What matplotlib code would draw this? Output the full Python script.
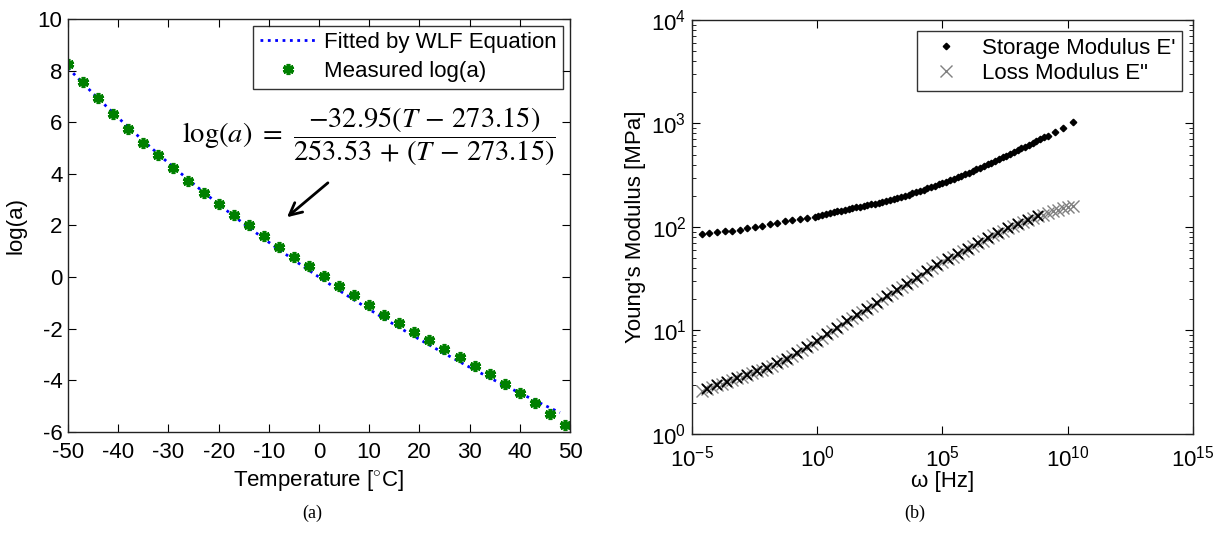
import matplotlib
matplotlib.use("Agg")
import matplotlib.pyplot as plt
import numpy as np
from matplotlib.ticker import LogLocator, NullLocator, FixedLocator

plt.rcParams['font.family'] = ['Liberation Sans', 'DejaVu Sans']
plt.rcParams['mathtext.fontset'] = 'custom'
plt.rcParams['mathtext.rm'] = 'Liberation Sans'
plt.rcParams['mathtext.it'] = 'Liberation Sans:italic'
plt.rcParams['axes.unicode_minus'] = False

# (a) shift factor data
temp_meas = [-50, -47, -44, -41, -38, -35, -32, -29, -26, -23, -20, -17,
             -14, -11, -8, -5, -2, 1, 4, 7, 10, 13, 16, 19, 22, 25, 28, 31,
             34, 37, 40, 43, 46, 49]
loga_meas = [8.27, 7.55, 6.92, 6.30, 5.74, 5.20, 4.71, 4.23, 3.74, 3.27, 2.83, 2.42,
             2.03, 1.59, 1.18, 0.79, 0.42, 0.03, -0.33, -0.69, -1.07, -1.45, -1.76, -2.12,
             -2.45, -2.78, -3.10, -3.44, -3.77, -4.15, -4.50, -4.89, -5.30, -5.73]
temp_fit = [-50, -45, -40, -35, -30, -25, -20, -15, -10, -5, 0, 5, 10, 15, 20,
            25, 30, 35, 40, 45, 48]
loga_fit = [8.10, 7.11, 6.17, 5.28, 4.42, 3.61, 2.82, 2.07, 1.35, 0.66, 0.0, -0.64,
            -1.25, -1.84, -2.41, -2.96, -3.49, -4.00, -4.49, -4.97, -5.25]

# (b) master curves, log10 values
logw_storage = [-4.6, -4.3, -4.0, -3.7, -3.4, -3.1, -2.8, -2.5, -2.2, -1.9, -1.6, -1.3,
                -1.0, -0.7, -0.4, -0.1,
                0.05, 0.2, 0.35, 0.5, 0.65, 0.8, 0.95, 1.1, 1.25, 1.4, 1.55, 1.7, 1.85,
                2.0, 2.15, 2.3, 2.45, 2.6, 2.75, 2.9, 3.05, 3.2, 3.35, 3.5, 3.65, 3.8,
                3.95, 4.1, 4.25, 4.4, 4.55, 4.7, 4.85, 5.0, 5.15, 5.3, 5.45, 5.6, 5.75,
                5.9, 6.05, 6.2, 6.35, 6.5, 6.65, 6.8, 6.95, 7.1, 7.25, 7.4, 7.55, 7.7,
                7.85, 8.0, 8.15, 8.3, 8.45, 8.6, 8.75, 8.9, 9.05, 9.2, 9.5, 9.8, 10.2]
logE_storage = [1.930, 1.945, 1.950, 1.957, 1.963, 1.975, 1.990, 2.000, 2.013, 2.025,
                2.040, 2.055, 2.068, 2.080, 2.090, 2.100,
                2.110, 2.118, 2.126, 2.134, 2.142, 2.150, 2.158, 2.166, 2.174, 2.182,
                2.190, 2.197, 2.204, 2.211, 2.218, 2.226, 2.234, 2.242, 2.250, 2.258,
                2.268, 2.278, 2.290, 2.302, 2.313, 2.325, 2.337, 2.349, 2.361, 2.373,
                2.386, 2.399, 2.412, 2.425, 2.438, 2.451, 2.465, 2.479, 2.494, 2.509,
                2.524, 2.540, 2.556, 2.572, 2.588, 2.605, 2.622, 2.639, 2.656, 2.673,
                2.690, 2.707, 2.724, 2.741, 2.758, 2.775, 2.792, 2.810, 2.828, 2.846,
                2.864, 2.882, 2.920, 2.960, 3.010]
logw_loss = [-4.6, -4.4, -4.2, -4.0, -3.8, -3.6, -3.4, -3.2, -3.0, -2.8, -2.6, -2.4,
             -2.2, -2.0, -1.8, -1.6, -1.4, -1.2, -1.0, -0.8, -0.6, -0.4, -0.2, 0.0,
             0.2, 0.4, 0.6, 0.8, 1.0, 1.2, 1.4, 1.6, 1.8, 2.0, 2.2, 2.4, 2.6, 2.8,
             3.0, 3.2, 3.4, 3.6, 3.8, 4.0, 4.2, 4.4, 4.6, 4.8, 5.0, 5.2, 5.4, 5.6,
             5.8, 6.0, 6.2, 6.4, 6.6, 6.8, 7.0, 7.2, 7.4, 7.6, 7.8, 8.0, 8.2, 8.4,
             8.6, 8.8, 9.0, 9.2, 9.4, 9.6, 9.8, 10.0, 10.2]
logE_loss = [0.420, 0.437, 0.453, 0.470, 0.487, 0.504, 0.521, 0.538, 0.555, 0.572,
             0.589, 0.606, 0.623, 0.640, 0.661, 0.683, 0.705, 0.727, 0.750, 0.778,
             0.808, 0.838, 0.869, 0.900, 0.932, 0.964, 0.996, 1.028, 1.060, 1.090,
             1.120, 1.150, 1.180, 1.210, 1.240, 1.270, 1.300, 1.330, 1.360, 1.390,
             1.420, 1.450, 1.480, 1.510, 1.540, 1.570, 1.600, 1.630, 1.660, 1.686,
             1.712, 1.738, 1.764, 1.790, 1.816, 1.842, 1.868, 1.894, 1.920, 1.942,
             1.964, 1.986, 2.008, 2.030, 2.048, 2.066, 2.084, 2.102, 2.120, 2.135,
             2.150, 2.165, 2.180, 2.190, 2.200]

fig = plt.figure(figsize=(12.21, 5.33), dpi=100)
FS = 16

# ---- (a) ----
ax1 = fig.add_axes([0.0557, 0.1895, 0.4111, 0.775])
ax1.plot(temp_fit, loga_fit, ':', color='blue', lw=2, label='Fitted by WLF Equation')
ax1.plot(temp_meas, loga_meas, linestyle='none', marker=(6, 2, 0), ms=8, mew=2.6,
         color='green', label='Measured log(a)')
ax1.set_xlim(-50, 50)
ax1.set_ylim(-6, 10)
ax1.set_xticks(np.arange(-50, 51, 10))
ax1.set_yticks(np.arange(-6, 11, 2))
ax1.tick_params(direction='in', top=True, right=True, labelsize=FS, length=6, pad=4)
ax1.tick_params(axis='x', pad=7)
ax1.set_xlabel('Temperature [$^{\\circ}$C]', fontsize=FS, labelpad=4)
ax1.set_ylabel('log(a)', fontsize=FS, labelpad=8)
leg1 = ax1.legend(loc='upper right', fontsize=FS, frameon=True, fancybox=False,
                  edgecolor='black', handlelength=2.6, borderaxespad=0.3,
                  labelspacing=0.35, handletextpad=0.3, borderpad=0.3)
leg1.get_frame().set_linewidth(1.0)
ax1.text(10, 5.45,
         r'$\mathrm{log}(a)\ =\ \dfrac{-32.95(T\,-\,273.15)}{253.53\,+\,(T\,-\,273.15)}$',
         fontsize=20.5, math_fontfamily='stix', ha='center', va='center')
ax1.annotate('', xy=(-6.8, 2.25), xytext=(2.2, 3.72),
             arrowprops=dict(arrowstyle='->', lw=2, color='black', mutation_scale=22))

# ---- (b) ----
ax2 = fig.add_axes([0.5667, 0.1857, 0.4104, 0.777])
ax2.set_xscale('log')
ax2.set_yscale('log')
w_s = np.power(10.0, logw_storage)
E_s = np.power(10.0, logE_storage)
w_l = np.power(10.0, logw_loss)
E_l = np.power(10.0, logE_loss)
ax2.plot(w_s, E_s, linestyle='none', marker='D', ms=3.3, color='black',
         label="Storage Modulus E'")
ax2.plot(w_l, E_l, linestyle='none', marker='x', ms=9, mew=1.0, color='0.5',
         label='Loss Modulus E"')
ax2.plot(w_l, E_l, linestyle='none', marker='x', ms=7, mew=1.3, color='black',
         markevery=slice(1, 68, 2))
ax2.set_xlim(1e-5, 1e15)
ax2.set_ylim(1e0, 1e4)
ax2.xaxis.set_major_locator(FixedLocator([1e-5, 1e0, 1e5, 1e10, 1e15]))
ax2.xaxis.set_minor_locator(NullLocator())
ax2.yaxis.set_major_locator(LogLocator(base=10, numticks=10))
ax2.yaxis.set_minor_locator(LogLocator(base=10, subs=np.arange(2, 10), numticks=10))
ax2.tick_params(which='both', direction='in', top=True, right=True, labelsize=FS)
ax2.tick_params(which='major', length=6, pad=4)
ax2.tick_params(which='minor', length=3)
ax2.tick_params(axis='x', which='major', pad=8)
ax2.set_xlabel('ω [Hz]', fontsize=FS, labelpad=0)
ax2.set_ylabel("Young's Modulus [MPa]", fontsize=FS, labelpad=4)
leg2 = ax2.legend(loc='upper right', fontsize=FS, frameon=True, fancybox=False,
                  edgecolor='black', handlelength=2.0, borderaxespad=0.5,
                  labelspacing=0.2, handletextpad=0.6, borderpad=0.3)
leg2.get_frame().set_linewidth(1.0)

for ax in (ax1, ax2):
    for s in ax.spines.values():
        s.set_linewidth(1.0)
        s.set_color('#222222')

fig.text(0.2555, 0.028, '(a)', fontsize=13, family='Liberation Serif', ha='center')
fig.text(0.749, 0.028, '(b)', fontsize=13, family='Liberation Serif', ha='center')

fig.savefig('out.png', dpi=100)
